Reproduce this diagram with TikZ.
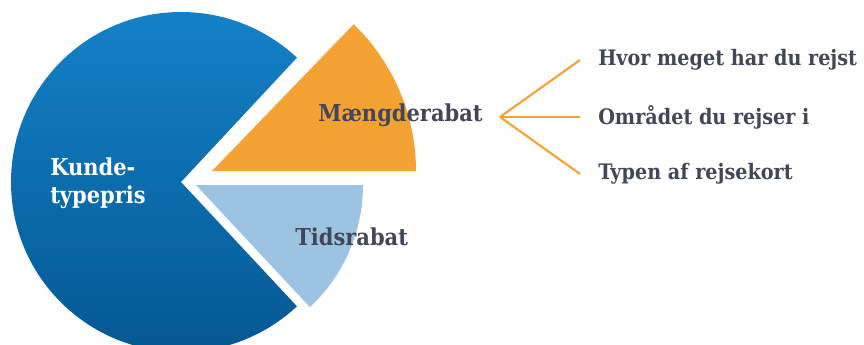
\documentclass[tikz,border=0pt]{standalone}
\usepackage{fontspec}
\setmainfont{DejaVu Serif}[FakeStretch=0.9]
\usepackage{tikz}
\usetikzlibrary{positioning,calc}
\definecolor{kundetop}{HTML}{1583CA}
\definecolor{kundebot}{HTML}{035690}
\definecolor{maengde}{HTML}{F5A234}
\definecolor{tids}{HTML}{9DC3E2}
\definecolor{tekst}{HTML}{414757}
\tikzstyle{label} = [font=\bfseries\fontsize{16}{21}\selectfont,text=tekst,inner sep=0pt,anchor=west]
\tikzstyle{pielabel} = [label,font=\bfseries\fontsize{17.5}{21}\selectfont]
\tikzstyle{fanline} = [maengde,line width=1.6pt]

\begin{document}
\begin{tikzpicture}[x=0.75pt,y=0.75pt,node distance=42.75pt,on grid]
	\clip (0,0) rectangle (864,344);
	% sectors
	\shade[top color=kundetop,bottom color=kundebot] (181,162) -- ++(47:170) arc[start angle=47,end angle=313,radius=170] -- cycle;
	\fill[maengde] (212,173) -- ++(0:204) arc[start angle=0,end angle=46,radius=204] -- cycle;
	\fill[tids] (196,159) -- ++(-47:167) arc[start angle=-47,end angle=0,radius=167] -- cycle;
	% texts
	\node[pielabel,text=white,align=left](kunde) at (50,161){Kunde-\\typepris};
	\node[pielabel](maengdetxt) at (318,229){Mængderabat};
	\node[pielabel](tidstxt) at (295,107){Tidsrabat};
	\coordinate (fan) at (500,227);
	\node[label](omr) at (598,227){Området du rejser i};
	\node[label][above=of omr.west,anchor=west](hvor){Hvor meget har du rejst};
	\node[label][below=of omr.west,anchor=west](typen){Typen af rejsekort};
	\path[fanline]
	(fan) edge ($(hvor.west)+(-18,0)$)
		edge ($(omr.west)+(-18,0)$)
		edge ($(typen.west)+(-18,0)$);
\end{tikzpicture}
\end{document}
